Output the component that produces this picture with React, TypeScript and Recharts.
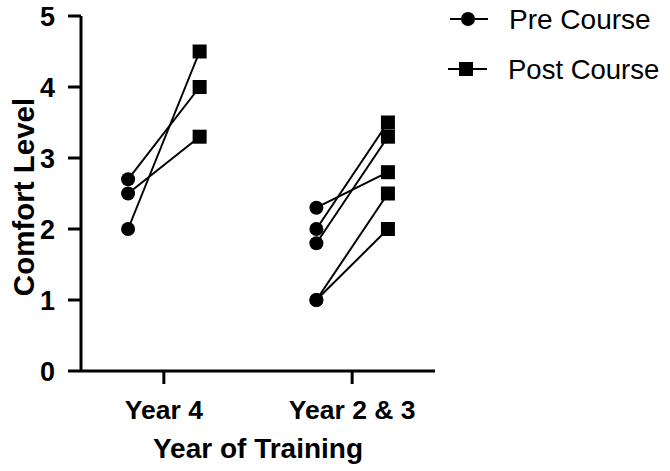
import { ComposedChart, Line, Scatter, XAxis, YAxis } from "recharts";

const groups = ["Year 4", "Year 2 & 3"];
// which group each subject belongs to (index into groups)
const subjectGroup = [0, 0, 0, 1, 1, 1, 1, 1];
const preCourse = [2.7, 2.5, 2.0, 2.3, 2.0, 1.8, 1.0, 1.0];
const postCourse = [4.0, 3.3, 4.5, 2.8, 3.5, 3.3, 2.5, 2.0];
const yTicks = [0, 1, 2, 3, 4, 5];

const SHIFT = 0.19;
const FONT = '"Liberation Sans", Arial, Helvetica, sans-serif';

const prePoints = preCourse.map((v, i) => ({ x: subjectGroup[i] + 1 - SHIFT, y: v }));
const postPoints = postCourse.map((v, i) => ({ x: subjectGroup[i] + 1 + SHIFT, y: v }));

const CircleDot = (props: any) => <circle cx={props.cx} cy={props.cy} r={7} fill="#000" />;
const SquareDot = (props: any) => (
  <rect x={props.cx - 7} y={props.cy - 7} width={14} height={14} fill="#000" />
);

const XTick = (props: any) => (
  <text
    x={props.x}
    y={props.y + 33}
    textAnchor="middle"
    fontFamily={FONT}
    fontWeight="bold"
    fontSize={26.5}
    fill="#000"
  >
    {groups[Math.round(props.payload.value) - 1]}
  </text>
);

const YTick = (props: any) => (
  <text
    x={props.x}
    y={props.y}
    dy="0.36em"
    textAnchor="end"
    fontFamily={FONT}
    fontWeight="bold"
    fontSize={27}
    fill="#000"
  >
    {props.payload.value}
  </text>
);

const LegendBox = () => (
  <svg width={230} height={100} style={{ position: "absolute", left: 440, top: 0 }}>
    <line x1={10} x2={48} y1={19} y2={19} stroke="#000" strokeWidth={2} />
    <circle cx={28} cy={19} r={7} fill="#000" />
    <text x={69} y={19} dy="0.36em" fontFamily={FONT} fontSize={28} fill="#000">
      Pre Course
    </text>
    <line x1={8} x2={47} y1={69} y2={69} stroke="#000" strokeWidth={2} />
    <rect x={19} y={62} width={14} height={14} fill="#000" />
    <text x={68} y={69} dy="0.36em" fontFamily={FONT} fontSize={27.5} fill="#000">
      Post Course
    </text>
  </svg>
);

export default function App() {
  return (
    <div style={{ position: "absolute", left: 0, top: 0, width: 670, height: 471, background: "#fff" }}>
      <ComposedChart
        width={670}
        height={471}
        margin={{ top: 16, right: 235, left: 0, bottom: 0 }}
      >
        <XAxis
          type="number"
          dataKey="x"
          domain={[0.56, 2.44]}
          ticks={[1, 2]}
          allowDataOverflow
          height={100}
          tickSize={13}
          tick={<XTick />}
          axisLine={{ stroke: "#000", strokeWidth: 3 }}
          tickLine={{ stroke: "#000", strokeWidth: 3 }}
          label={() => (
            <text
              x={258}
              y={458}
              textAnchor="middle"
              fontFamily={FONT}
              fontWeight="bold"
              fontSize={28}
              fill="#000"
            >
              Year of Training
            </text>
          )}
        />
        <YAxis
          type="number"
          dataKey="y"
          domain={[0, 5]}
          ticks={yTicks}
          width={81}
          tickSize={13}
          tickMargin={13}
          tick={<YTick />}
          axisLine={{ stroke: "#000", strokeWidth: 3 }}
          tickLine={{ stroke: "#000", strokeWidth: 3 }}
          label={() => (
            <text
              x={34}
              y={197}
              transform="rotate(-90 34 197)"
              textAnchor="middle"
              fontFamily={FONT}
              fontWeight="bold"
              fontSize={29.5}
              fill="#000"
            >
              Comfort Level
            </text>
          )}
        />
        {preCourse.map((_, i) => (
          <Line
            key={"s" + i}
            data={[prePoints[i], postPoints[i]]}
            dataKey="y"
            stroke="#000"
            strokeWidth={2}
            dot={false}
            activeDot={false}
            isAnimationActive={false}
          />
        ))}
        <Scatter data={prePoints} dataKey="y" shape={<CircleDot />} isAnimationActive={false} />
        <Scatter data={postPoints} dataKey="y" shape={<SquareDot />} isAnimationActive={false} />
      </ComposedChart>
      <LegendBox />
    </div>
  );
}
